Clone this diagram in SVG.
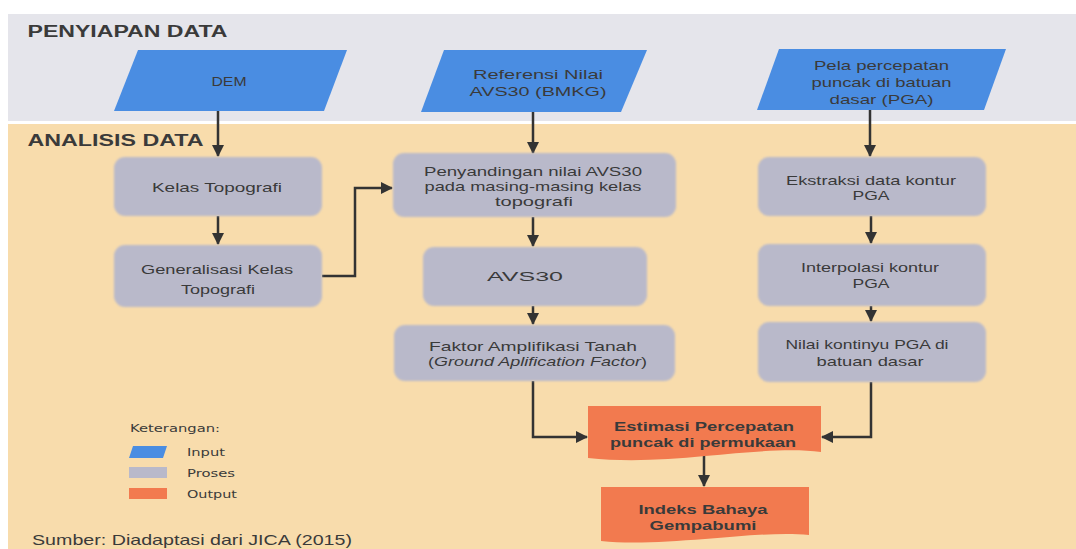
<svg xmlns="http://www.w3.org/2000/svg" width="1076" height="549" viewBox="0 0 1076 549">
<defs>
<style>
.t{font-family:"Liberation Sans",Arial,sans-serif;font-size:13px;fill:#3a3a3a;text-anchor:middle}
.b{font-weight:bold}
.h{font-family:"Liberation Sans",Arial,sans-serif;font-size:16px;font-weight:bold;fill:#3a3a3a}
.lg{font-family:"DejaVu Sans",sans-serif;font-size:10px;fill:#3a3a3a}
.inp{fill:#4a8de2}
.pro{fill:#b9b9ca;filter:url(#soft)}
.out{fill:#f27a4f}
.c{fill:none;stroke:#333;stroke-width:2.5;marker-end:url(#ah)}
</style>
<filter id="soft" x="-5%" y="-10%" width="110%" height="120%"><feGaussianBlur stdDeviation="1.3"/></filter>
<marker id="ah" markerUnits="userSpaceOnUse" markerWidth="14" markerHeight="14" refX="11" refY="6" orient="auto"><path d="M0,0 L12,6 L0,12 Z" fill="#333"/></marker>
</defs>
<rect x="0" y="0" width="1076" height="549" fill="#ffffff"/>
<rect x="8" y="14" width="1068" height="107" fill="#e5e5eb"/>
<rect x="8" y="124" width="1068" height="425" fill="#f8dcac"/>
<text class="h" x="27.5" y="37" textLength="200" lengthAdjust="spacingAndGlyphs">PENYIAPAN DATA</text>
<text class="h" x="27.5" y="145.5" textLength="176" lengthAdjust="spacingAndGlyphs">ANALISIS DATA</text>

<g id="connectors">
<path class="c" d="M218,111 V156"/>
<path class="c" d="M533,112 V153"/>
<path class="c" d="M870,110 V156"/>
<path class="c" d="M218,216 V244"/>
<path class="c" d="M322,276 H355 V188 H392"/>
<path class="c" d="M533,217 V246"/>
<path class="c" d="M533,306 V324"/>
<path class="c" d="M871,216 V243"/>
<path class="c" d="M871,306 V321"/>
<path class="c" d="M533,381 V437 H587"/>
<path class="c" d="M871,382 V437 H822"/>
<path class="c" d="M704,456 V486"/>
</g>

<g id="dem">
<polygon class="inp" points="138,50 347,50 324,111 114,111"/>
<text class="t" x="229" y="86" textLength="35" lengthAdjust="spacingAndGlyphs">DEM</text>
</g>
<g id="referensi">
<polygon class="inp" points="444,50 647,50 621,112 421,112"/>
<text class="t" x="538" y="78.5" textLength="130" lengthAdjust="spacingAndGlyphs">Referensi Nilai</text>
<text class="t" x="538" y="95.5" textLength="137" lengthAdjust="spacingAndGlyphs">AVS30 (BMKG)</text>
</g>
<g id="pela">
<polygon class="inp" points="779,49 1006,49 984,110 757,110"/>
<text class="t" x="881.5" y="70" textLength="135" lengthAdjust="spacingAndGlyphs">Pela percepatan</text>
<text class="t" x="881.5" y="87" textLength="140" lengthAdjust="spacingAndGlyphs">puncak di batuan</text>
<text class="t" x="881.5" y="104" textLength="104" lengthAdjust="spacingAndGlyphs">dasar (PGA)</text>
</g>

<g id="kelas">
<rect class="pro" x="114" y="157" width="208" height="59" rx="11"/>
<text class="t" x="217" y="191.5" textLength="130" lengthAdjust="spacingAndGlyphs">Kelas Topografi</text>
</g>
<g id="generalisasi">
<rect class="pro" x="114" y="245" width="208" height="62" rx="11"/>
<text class="t" x="217" y="274" textLength="152" lengthAdjust="spacingAndGlyphs">Generalisasi Kelas</text>
<text class="t" x="218" y="294" textLength="74" lengthAdjust="spacingAndGlyphs">Topografi</text>
</g>
<g id="penyandingan">
<rect class="pro" x="393" y="153" width="283" height="64" rx="11"/>
<text class="t" x="533" y="176" textLength="218" lengthAdjust="spacingAndGlyphs">Penyandingan nilai AVS30</text>
<text class="t" x="533" y="191" textLength="217" lengthAdjust="spacingAndGlyphs">pada masing-masing kelas</text>
<text class="t" x="534" y="205.5" textLength="78" lengthAdjust="spacingAndGlyphs">topografi</text>
</g>
<g id="avs30">
<rect class="pro" x="423" y="247" width="224" height="59" rx="11"/>
<text class="t" x="525" y="280.5" textLength="76" lengthAdjust="spacingAndGlyphs">AVS30</text>
</g>
<g id="faktor">
<rect class="pro" x="394" y="325" width="281" height="56" rx="11"/>
<text class="t" x="533" y="350.5" textLength="208" lengthAdjust="spacingAndGlyphs">Faktor Amplifikasi Tanah</text>
<text class="t" x="537.5" y="366" textLength="219" lengthAdjust="spacingAndGlyphs">(<tspan font-style="italic">Ground Aplification Factor</tspan>)</text>
</g>
<g id="ekstraksi">
<rect class="pro" x="758" y="157" width="228" height="59" rx="11"/>
<text class="t" x="871" y="184.5" textLength="170" lengthAdjust="spacingAndGlyphs">Ekstraksi data kontur</text>
<text class="t" x="871" y="200" textLength="37" lengthAdjust="spacingAndGlyphs">PGA</text>
</g>
<g id="interpolasi">
<rect class="pro" x="758" y="244" width="228" height="62" rx="11"/>
<text class="t" x="870" y="272" textLength="138" lengthAdjust="spacingAndGlyphs">Interpolasi kontur</text>
<text class="t" x="871" y="287.5" textLength="37" lengthAdjust="spacingAndGlyphs">PGA</text>
</g>
<g id="nilai">
<rect class="pro" x="758" y="322" width="228" height="60" rx="11"/>
<text class="t" x="867" y="349" textLength="163" lengthAdjust="spacingAndGlyphs">Nilai kontinyu PGA di</text>
<text class="t" x="870" y="366" textLength="107" lengthAdjust="spacingAndGlyphs">batuan dasar</text>
</g>
<g id="estimasi">
<path class="out" d="M588,406 H821 V452 C790,448 750,452 705,456 C665,460 625,462 588,458 Z"/>
<text class="t b" x="704" y="431" textLength="180" lengthAdjust="spacingAndGlyphs">Estimasi Percepatan</text>
<text class="t b" x="703" y="446.5" textLength="186" lengthAdjust="spacingAndGlyphs">puncak di permukaan</text>
</g>
<g id="indeks">
<path class="out" d="M601,487 H809 V535 C780,532 745,536 705,539 C665,542 630,544 601,541 Z"/>
<text class="t b" x="703" y="514" textLength="129" lengthAdjust="spacingAndGlyphs">Indeks Bahaya</text>
<text class="t b" x="703" y="529.5" textLength="107" lengthAdjust="spacingAndGlyphs">Gempabumi</text>
</g>

<g id="legend">
<text class="lg" x="130" y="432" textLength="90" lengthAdjust="spacingAndGlyphs">Keterangan:</text>
<polygon class="inp" points="133,446 167,446 163,458 129,458"/>
<text class="lg" x="187" y="456" textLength="38" lengthAdjust="spacingAndGlyphs">Input</text>
<rect x="129" y="467" width="38" height="11" fill="#b9b9ca"/>
<text class="lg" x="187" y="477" textLength="48" lengthAdjust="spacingAndGlyphs">Proses</text>
<rect x="129" y="488" width="38" height="11" fill="#f27a4f"/>
<text class="lg" x="187" y="498" textLength="50" lengthAdjust="spacingAndGlyphs">Output</text>
</g>
<text x="32" y="545" font-family="Liberation Sans, Arial, sans-serif" font-size="15" fill="#3a3a3a" textLength="320" lengthAdjust="spacingAndGlyphs">Sumber:  Diadaptasi  dari JICA (2015)</text>
</svg>
